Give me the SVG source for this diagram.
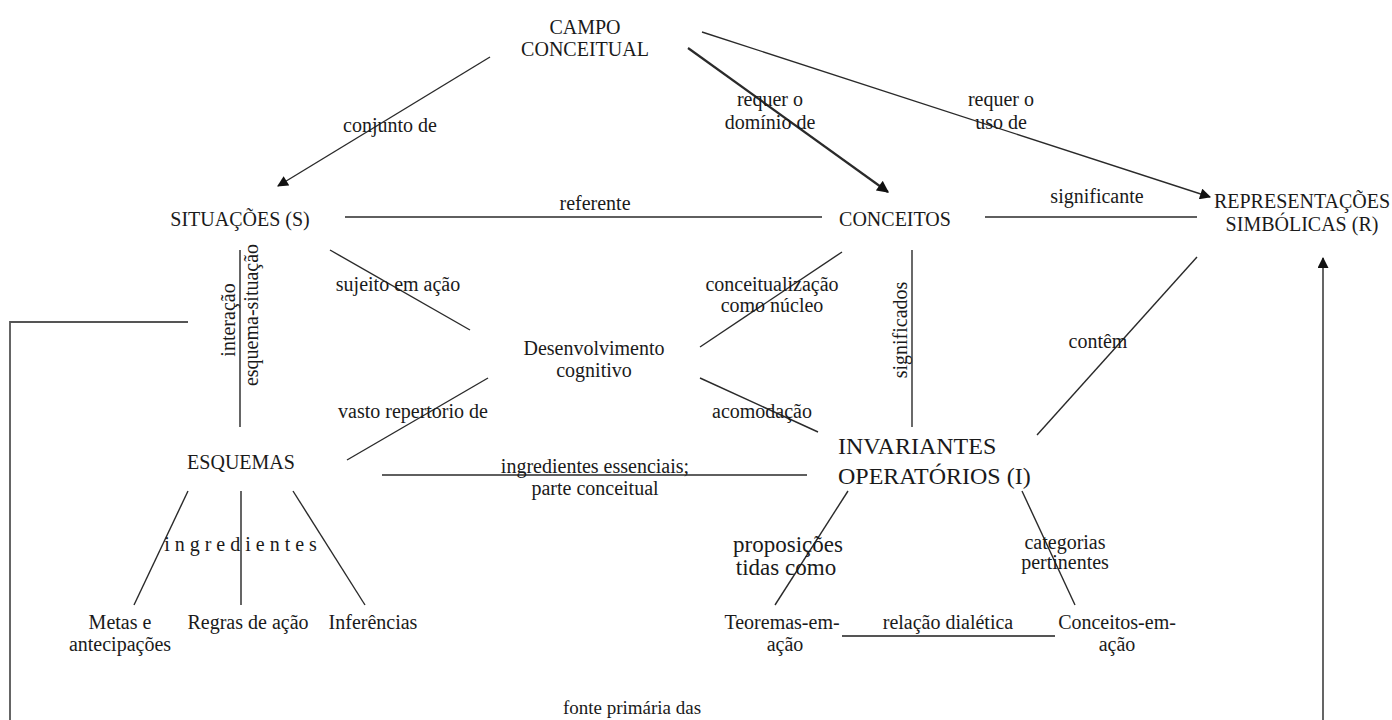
<svg xmlns="http://www.w3.org/2000/svg" width="1392" height="720" viewBox="0 0 1392 720">
<defs>
<marker id="arr" viewBox="0 0 10 10" refX="9" refY="5" markerWidth="12" markerHeight="11" markerUnits="userSpaceOnUse" orient="auto"><path d="M0,0 L10,5 L0,10 z" fill="#111"/></marker>
<marker id="arr2" viewBox="0 0 10 10" refX="9" refY="5" markerWidth="13" markerHeight="12" markerUnits="userSpaceOnUse" orient="auto"><path d="M0,0 L10,5 L0,10 z" fill="#111"/></marker>
</defs>
<style>
text{font-family:"Liberation Serif","Times New Roman",serif;font-size:20px;fill:#1a1a1a;text-anchor:middle}
.big{font-size:24px}
.mid{font-size:23px}
.c line,.c polyline{stroke:#2a2a2a;stroke-width:1.4;fill:none}
.c .thick{stroke-width:2.2}
.c .grey{stroke:#555;stroke-width:1.8}
</style>
<rect width="1392" height="720" fill="#fff"/>
<g class="c" id="connectors">
<line x1="490" y1="57" x2="278" y2="186" marker-end="url(#arr)"/>
<line class="thick" x1="688" y1="48" x2="888" y2="192" marker-end="url(#arr2)"/>
<line x1="702" y1="32" x2="1210" y2="197" marker-end="url(#arr)"/>
<line x1="345" y1="217" x2="822" y2="217"/>
<line x1="985" y1="217" x2="1197" y2="217"/>
<line class="grey" x1="240" y1="250" x2="240" y2="427"/>
<line x1="330" y1="250" x2="470" y2="330"/>
<line x1="488" y1="378" x2="347" y2="460"/>
<line x1="700" y1="347" x2="842" y2="252"/>
<line x1="700" y1="378" x2="818" y2="432"/>
<line x1="912" y1="250" x2="912" y2="427"/>
<line x1="1037" y1="435" x2="1197" y2="257"/>
<line x1="382" y1="475" x2="807" y2="475"/>
<line x1="188" y1="491" x2="134" y2="605"/>
<line class="grey" x1="241" y1="491" x2="241" y2="605"/>
<line x1="293" y1="491" x2="365" y2="605"/>
<line x1="848" y1="491" x2="775" y2="605"/>
<line x1="1022" y1="491" x2="1075" y2="605"/>
<line class="grey" x1="842" y1="636" x2="1055" y2="636"/>
<polyline class="grey" points="188,322 10,322 10,720"/>
<line class="grey" x1="1323" y1="720" x2="1323" y2="258" marker-end="url(#arr)"/>
</g>
<g id="labels">
<text x="390" y="132">conjunto de</text>
<text x="770" y="106">requer o</text>
<text x="770" y="129">domínio de</text>
<text x="1001" y="106">requer o</text>
<text x="1001" y="129">uso de</text>
<text x="595" y="210">referente</text>
<text x="1097" y="203">significante</text>
<text transform="translate(235,320) rotate(-90)">interação</text>
<text transform="translate(258,315) rotate(-90)">esquema-situação</text>
<text x="398" y="291">sujeito em ação</text>
<text x="772" y="291">conceitualização</text>
<text x="772" y="312">como núcleo</text>
<text transform="translate(907,330) rotate(-90)">significados</text>
<text x="413" y="418">vasto repertorio de</text>
<text x="762" y="418">acomodação</text>
<text x="1098" y="348">contêm</text>
<text x="595" y="473">ingredientes essenciais;</text>
<text x="595" y="495">parte conceitual</text>
<text x="243" y="551" style="letter-spacing:5px">ingredientes</text>
<text class="mid" x="788" y="552">proposições</text>
<text class="mid" x="786" y="575">tidas como</text>
<text x="1065" y="549">categorias</text>
<text x="1065" y="569">pertinentes</text>
<text x="948" y="629">relação dialética</text>
<text x="632" y="714" style="font-size:19px">fonte primária das</text>
</g>
<g id="campo"><text x="585" y="34">CAMPO</text><text x="585" y="56">CONCEITUAL</text></g>
<g id="situacoes"><text x="240" y="226">SITUAÇÕES (S)</text></g>
<g id="conceitos"><text x="895" y="226">CONCEITOS</text></g>
<g id="representacoes"><text x="1302" y="208">REPRESENTAÇÕES</text><text x="1302" y="231">SIMBÓLICAS (R)</text></g>
<g id="desenvolvimento"><text x="594" y="355">Desenvolvimento</text><text x="594" y="377">cognitivo</text></g>
<g id="esquemas"><text x="241" y="469">ESQUEMAS</text></g>
<g id="invariantes"><text class="big" x="838" y="454" style="text-anchor:start">INVARIANTES</text><text class="big" x="838" y="484" style="text-anchor:start">OPERATÓRIOS (I)</text></g>
<g id="metas"><text x="120" y="629">Metas e</text><text x="120" y="651">antecipações</text></g>
<g id="regras"><text x="248" y="629">Regras de ação</text></g>
<g id="inferencias"><text x="373" y="629">Inferências</text></g>
<g id="teoremas"><text x="782" y="629">Teoremas-em-</text><text x="785" y="651">ação</text></g>
<g id="conceitos-em-acao"><text x="1117" y="629">Conceitos-em-</text><text x="1117" y="651">ação</text></g>
</svg>
